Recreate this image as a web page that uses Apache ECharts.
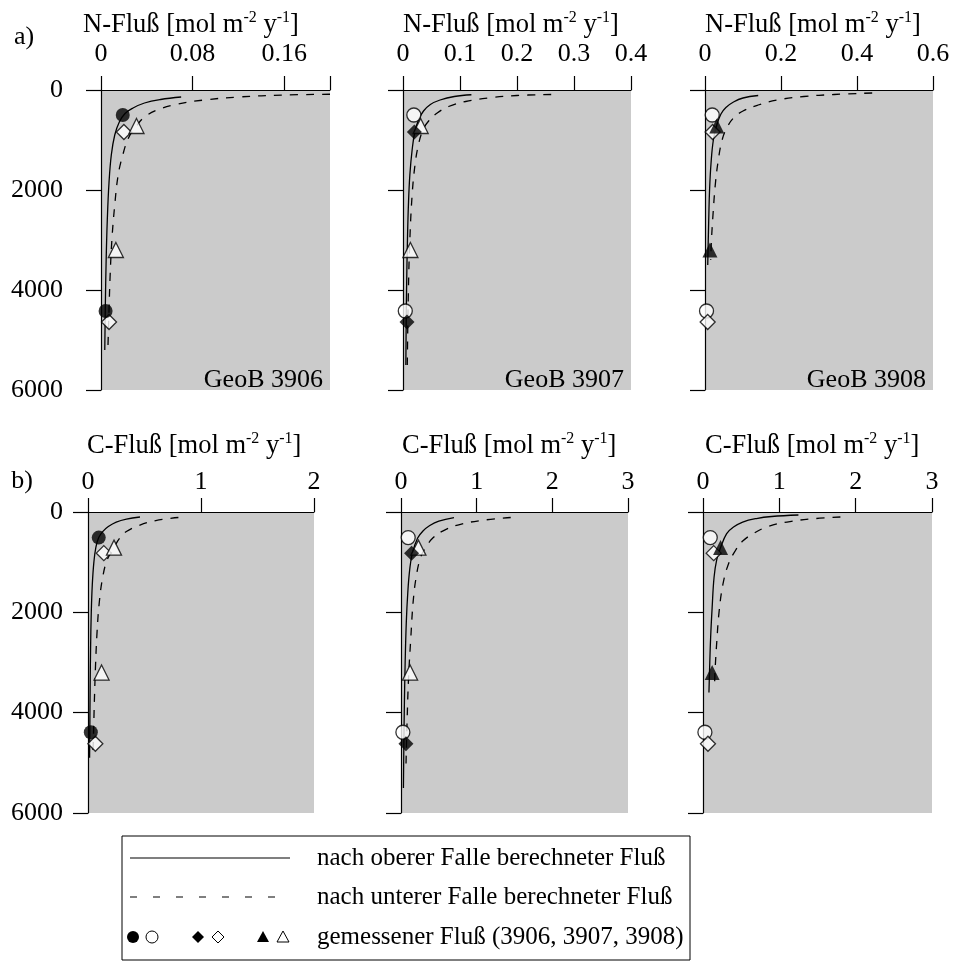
<!DOCTYPE html>
<html><head><meta charset="utf-8">
<script src="https://cdn.jsdelivr.net/npm/echarts@6/dist/echarts.min.js"></script>
<style>html,body{margin:0;padding:0;background:#fff}#c{width:955px;height:963px}</style>
</head><body><div id="c"></div>
<script>
// ---------- data ----------
const nAxisMax = [0.2, 0.4, 0.6];
const nAxisStep = [0.08, 0.1, 0.2];
const cAxisMax = [2, 3, 3];
const cAxisStep = [1, 1, 1];
const depthTicks = [0, 2000, 4000, 6000];
const stations = ['GeoB 3906', 'GeoB 3907', 'GeoB 3908'];

// measured fluxes [flux, depth]
const nMeas3906 = [[0.019, 500], [0.004, 4420]];
const nMeas3907 = [[0.020, 840], [0.007, 4640]];
const nMeas3908 = [[0.031, 720], [0.013, 3200]];
const cMeas3906 = [[0.095, 510], [0.025, 4390]];
const cMeas3907 = [[0.14, 820], [0.065, 4620]];
const cMeas3908 = [[0.23, 710], [0.12, 3200]];

// flux computed from upper trap (solid) and lower trap (dashed)
const nUpper3906 = [[0.07,140],[0.052,190],[0.038,260],[0.028,360],[0.021,470],[0.016,640],[0.012,900],[0.009,1300],[0.007,1850],[0.0055,2600],[0.0045,3400],[0.0038,4300],[0.0033,5200]];
const nLower3906 = [[0.2,85],[0.16,100],[0.12,140],[0.09,200],[0.065,290],[0.048,410],[0.037,560],[0.031,720],[0.024,960],[0.019,1300],[0.015,1700],[0.012,2300],[0.0095,3000],[0.008,3700],[0.007,4400],[0.006,5200]];
const nUpper3907 = [[0.12,95],[0.09,130],[0.065,200],[0.048,290],[0.036,420],[0.028,580],[0.021,820],[0.016,1200],[0.012,1700],[0.0095,2300],[0.0078,3000],[0.0065,3800],[0.0056,4640],[0.005,5500]];
const nLower3907 = [[0.26,90],[0.2,110],[0.15,160],[0.11,230],[0.08,330],[0.06,460],[0.045,620],[0.035,800],[0.027,1100],[0.021,1500],[0.016,2100],[0.012,3000],[0.0095,4000],[0.0075,5500]];
const nUpper3908 = [[0.14,110],[0.1,160],[0.075,240],[0.055,350],[0.042,480],[0.031,700],[0.022,1000],[0.016,1450],[0.012,2000],[0.0095,2700],[0.008,3200],[0.0072,3500]];
const nLower3908 = [[0.44,60],[0.34,90],[0.26,130],[0.19,200],[0.14,300],[0.1,420],[0.075,560],[0.058,750],[0.045,1000],[0.035,1400],[0.027,1900],[0.021,2500],[0.017,3000],[0.015,3400]];
const cUpper3906 = [[0.46,100],[0.34,140],[0.25,200],[0.18,290],[0.13,390],[0.095,510],[0.07,700],[0.052,1000],[0.038,1450],[0.029,2000],[0.023,2700],[0.019,3500],[0.016,4400],[0.014,4900]];
const cLower3906 = [[0.8,110],[0.6,170],[0.45,270],[0.34,390],[0.28,520],[0.23,710],[0.17,950],[0.13,1300],[0.1,1800],[0.08,2400],[0.066,3100],[0.056,3800],[0.048,4500],[0.042,4900]];
const cUpper3907 = [[0.7,110],[0.5,180],[0.38,270],[0.29,380],[0.22,520],[0.15,820],[0.115,1150],[0.09,1600],[0.07,2200],[0.055,3000],[0.045,3800],[0.038,4600],[0.032,5500]];
const cLower3907 = [[1.45,110],[1.05,170],[0.75,260],[0.55,380],[0.42,520],[0.33,700],[0.26,900],[0.2,1300],[0.16,1800],[0.13,2500],[0.1,3300],[0.08,4200],[0.065,5100]];
const cUpper3908 = [[1.25,60],[0.9,90],[0.7,130],[0.52,200],[0.4,300],[0.31,430],[0.23,710],[0.18,950],[0.145,1300],[0.12,1900],[0.1,2500],[0.085,3200],[0.078,3600]];
const cLower3908 = [[1.8,100],[1.4,140],[1.1,200],[0.85,290],[0.67,420],[0.52,580],[0.42,780],[0.33,1050],[0.26,1450],[0.21,2000],[0.18,2600],[0.16,3100],[0.15,3500]];

// ---------- layout ----------
const FONT = 'Liberation Serif';
const GRAY = '#cbcbcb';
const TICK_FS = 26;
const panels = [
  {g:[101,90,229,300], max:nAxisMax[0], step:nAxisStep[0], hideMax:true, yLab:true, yM:38, xM:23, up:nUpper3906, lo:nLower3906, own:0, meas:[nMeas3906,nMeas3907,nMeas3908]},
  {g:[403,90,228,300], max:nAxisMax[1], step:nAxisStep[1], hideMax:false, yLab:false, yM:38, xM:23, up:nUpper3907, lo:nLower3907, own:1, meas:[nMeas3906,nMeas3907,nMeas3908]},
  {g:[705,90,228,300], max:nAxisMax[2], step:nAxisStep[2], hideMax:false, yLab:false, yM:38, xM:23, up:nUpper3908, lo:nLower3908, own:2, meas:[nMeas3906,nMeas3907,nMeas3908]},
  {g:[88,512,226,301], max:cAxisMax[0], step:cAxisStep[0], hideMax:false, yLab:true, yM:25, xM:17, up:cUpper3906, lo:cLower3906, own:0, meas:[cMeas3906,cMeas3907,cMeas3908]},
  {g:[401,512,227,301], max:cAxisMax[1], step:cAxisStep[1], hideMax:false, yLab:false, yM:25, xM:17, up:cUpper3907, lo:cLower3907, own:1, meas:[cMeas3906,cMeas3907,cMeas3908]},
  {g:[703,512,229,301], max:cAxisMax[2], step:cAxisStep[2], hideMax:false, yLab:false, yM:25, xM:17, up:cUpper3908, lo:cLower3908, own:2, meas:[cMeas3906,cMeas3907,cMeas3908]}
];
const symbols = ['circle', 'diamond', 'triangle'];
const symSizes = [14, 15, 15];

const grid = [], xAxis = [], yAxis = [], series = [];
panels.forEach((p, i) => {
  grid.push({left:p.g[0], top:p.g[1], width:p.g[2], height:p.g[3], show:true, backgroundColor:GRAY, borderWidth:0, containLabel:false});
  xAxis.push({
    type:'value', gridIndex:i, position:'top', min:0, max:p.max, interval:p.step,
    axisLine:{show:true, onZero:false, lineStyle:{color:'#000', width:1.2}},
    axisTick:{show:true, length:14, lineStyle:{color:'#000', width:1.2}},
    splitLine:{show:false},
    axisLabel:{show:true, margin:p.xM, color:'#000', fontFamily:FONT, fontSize:TICK_FS, showMaxLabel:true, showMinLabel:true,
      formatter:(v) => (p.hideMax && Math.abs(v - p.max) < 1e-9) ? '' : String(+(+v).toFixed(2))}
  });
  yAxis.push({
    type:'value', gridIndex:i, inverse:true, min:depthTicks[0], max:depthTicks[depthTicks.length-1], interval:depthTicks[1]-depthTicks[0],
    axisLine:{show:true, onZero:false, lineStyle:{color:'#000', width:1.2}},
    axisTick:{show:true, length:15, lineStyle:{color:'#000', width:1.2}},
    splitLine:{show:false},
    axisLabel:{show:p.yLab, margin:p.yM, color:'#000', fontFamily:FONT, fontSize:TICK_FS, formatter:(v) => String(Math.round(v))}
  });
  series.push({type:'line', xAxisIndex:i, yAxisIndex:i, data:p.up, symbol:'none', smooth:0.4, clip:true, silent:true, z:2,
    lineStyle:{color:'#000', width:1.3}});
  series.push({type:'line', xAxisIndex:i, yAxisIndex:i, data:p.lo, symbol:'none', smooth:0.4, clip:true, silent:true, z:2,
    lineStyle:{color:'#000', width:1.3, type:[8,8]}});
  p.meas.forEach((m, k) => {
    const filled = k === p.own;
    series.push({type:'scatter', xAxisIndex:i, yAxisIndex:i, data:m, symbol:symbols[k], symbolSize:symSizes[k], silent:true, z:3 + (filled?1:0),
      itemStyle:{color: filled ? '#000' : '#fff', borderColor:'#000', borderWidth: filled ? 0 : 1.3}});
  });
});

const rich = {
  n:{fontFamily:FONT, fontSize:26.5, lineHeight:31, color:'#000'},
  s:{fontFamily:FONT, fontSize:16, lineHeight:23, verticalAlign:'top', color:'#000'}
};
function fluxTitle(prefix){ return '{n|' + prefix + ' [mol m}{s|-2}{n| y}{s|-1}{n|]}'; }
function txt(x, y, text, align, size){
  return {type:'text', x:x, y:y, silent:true, z:50,
    style:{text:text, fill:'#000', fontFamily:FONT, fontSize:size||25, align:align||'left', verticalAlign:'middle'}};
}
const graphic = [];
[[83,25,'N-Fluß'],[403,25,'N-Fluß'],[705,25,'N-Fluß'],[87,446,'C-Fluß'],[402,446,'C-Fluß'],[705,446,'C-Fluß']].forEach(t => {
  graphic.push({type:'text', x:t[0], y:t[1], silent:true, z:50,
    style:{text:fluxTitle(t[2]), rich:rich, fill:'#000', fontFamily:FONT, fontSize:26.5, align:'left', verticalAlign:'middle'}});
});
graphic.push(txt(24, 37, 'a)', 'center', 26));
graphic.push(txt(22, 481, 'b)', 'center', 26));
[[323,380],[624,380],[926,380]].forEach((pos, k) => graphic.push(txt(pos[0], pos[1], stations[k], 'right', 26)));

// legend
const LX = 317, rows = [858, 897, 937];
graphic.push({type:'rect', z:40, silent:true, shape:{x:122, y:836, width:568, height:124}, style:{fill:'#fff', stroke:'#000', lineWidth:1}});
graphic.push({type:'line', z:45, silent:true, shape:{x1:130, y1:rows[0], x2:290, y2:rows[0]}, style:{stroke:'#000', lineWidth:1.2}});
graphic.push({type:'line', z:45, silent:true, shape:{x1:130, y1:rows[1], x2:290, y2:rows[1]}, style:{stroke:'#000', lineWidth:1.2, lineDash:[7,16]}});
const ry = rows[2];
graphic.push({type:'circle', z:45, silent:true, shape:{cx:133, cy:ry, r:6}, style:{fill:'#000'}});
graphic.push({type:'circle', z:45, silent:true, shape:{cx:152, cy:ry, r:6}, style:{fill:'#fff', stroke:'#000', lineWidth:1}});
graphic.push({type:'polygon', z:45, silent:true, shape:{points:[[198,ry-6],[204,ry],[198,ry+6],[192,ry]]}, style:{fill:'#000'}});
graphic.push({type:'polygon', z:45, silent:true, shape:{points:[[218,ry-6],[224,ry],[218,ry+6],[212,ry]]}, style:{fill:'#fff', stroke:'#000', lineWidth:1}});
graphic.push({type:'polygon', z:45, silent:true, shape:{points:[[263,ry-6],[269,ry+5],[257,ry+5]]}, style:{fill:'#000'}});
graphic.push({type:'polygon', z:45, silent:true, shape:{points:[[283,ry-6],[289,ry+5],[277,ry+5]]}, style:{fill:'#fff', stroke:'#000', lineWidth:1}});
graphic.push(txt(LX, rows[0], 'nach oberer Falle berechneter Fluß', 'left'));
graphic.push(txt(LX, rows[1], 'nach unterer Falle berechneter Fluß', 'left'));
graphic.push(txt(LX, rows[2], 'gemessener Fluß (3906, 3907, 3908)', 'left'));

const chart = echarts.init(document.getElementById('c'), null, {renderer:'canvas', width:955, height:963});
chart.setOption({animation:false, backgroundColor:'#fff', grid, xAxis, yAxis, series, graphic});
</script></body></html>
